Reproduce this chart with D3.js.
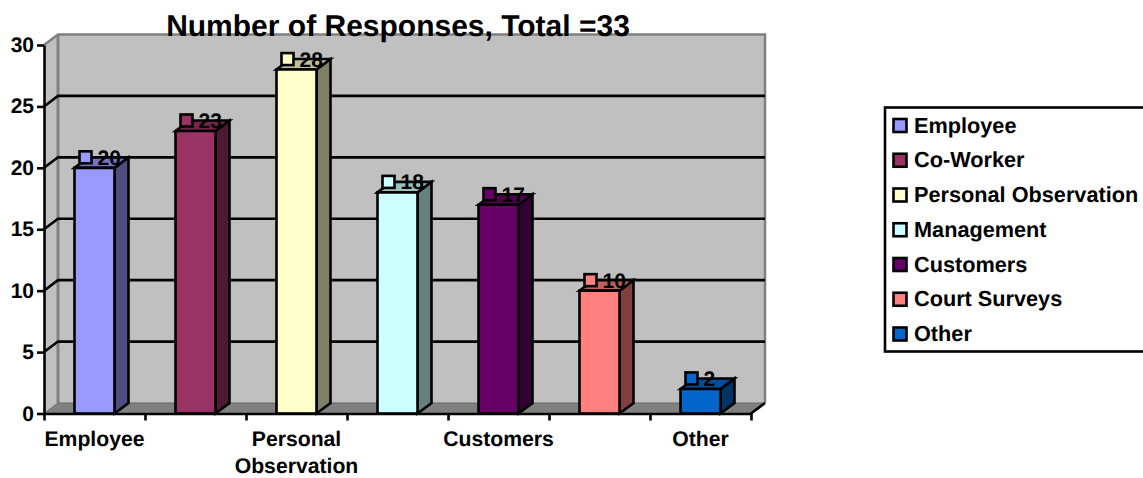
<!DOCTYPE html>
<html><head><meta charset="utf-8">
<script src="https://d3js.org/d3.v7.min.js"></script>
<style>html,body{margin:0;padding:0;background:#fff;overflow:hidden}svg{display:block}
text{font-family:"Liberation Sans",Arial,sans-serif;font-weight:bold;fill:#000;text-rendering:geometricPrecision}</style>
</head><body><div id="c"></div>
<script>
const categories=["Employee","Co-Worker","Personal Observation","Management","Customers","Court Surveys","Other"];
const values=[20,23,28,18,17,10,2];
const colors=["#9999FF","#993366","#FFFFCC","#CCFFFF","#660066","#FF8080","#0066CC"];
const sideColors=["#4D4D80","#4D1A33","#808066","#668080","#330033","#804040","#003366"];
const topColors=["#7373BF","#73264D","#BFBF99","#99BFBF","#4D004D","#BF6060","#004D99"];
const axisLabels=[["Employee"],[],["Personal","Observation"],[],["Customers"],[],["Other"]];
const yTicks=[0,5,10,15,20,25,30];
const titleText="Number of Responses, Total =33";

(function(){
const W=1143,H=478,pLeft=44,pRight=751,pTop=45,pBottom=413.5,dx=14,dy=-10.5,lw=2.6;
const svg=d3.select("#c").append("svg").attr("width",W).attr("height",H);
const x=d3.scaleBand().domain(categories).range([pLeft,pRight]).paddingInner(.604).paddingOuter(.302);
const edge=d3.scaleLinear().domain([0,categories.length]).range([pLeft,pRight]);
const y=d3.scaleLinear().domain([0,30]).range([pBottom,pTop]);
const poly=(pts,f,s,w)=>svg.append("polygon").attr("points",pts.map(p=>p.join(",")).join(" ")).attr("fill",f).attr("stroke",s||"none").attr("stroke-width",w||0).attr("stroke-linejoin","miter");
const label=(g,tx,ty,str,size,anchor)=>g.append("text").attr("x",tx).attr("y",ty).attr("font-size",size).attr("text-anchor",anchor||"start").text(str);

// walls and floor
poly([[pLeft+dx,pTop+dy],[pRight+dx,pTop+dy],[pRight+dx,pBottom+dy],[pLeft+dx,pBottom+dy]],"#C0C0C0");
poly([[pLeft,pTop],[pLeft+dx,pTop+dy],[pLeft+dx,pBottom+dy],[pLeft,pBottom]],"#C0C0C0");
poly([[pLeft,pBottom],[pLeft+dx,pBottom+dy],[pRight+dx,pBottom+dy],[pRight,pBottom]],"#808080");
// wall edges
const gray="#808080";
svg.append("path").attr("d",`M${pLeft},${pTop}L${pLeft+dx},${pTop+dy}H${pRight+dx}V${pBottom+dy}`).attr("fill","none").attr("stroke",gray).attr("stroke-width",2.5);
svg.append("path").attr("d",`M${pLeft+dx},${pTop+dy}V${pBottom+dy}`).attr("stroke",gray).attr("stroke-width",3);
svg.append("path").attr("d",`M${pLeft},${pBottom}L${pLeft+dx},${pBottom+dy}H${pRight+dx}`).attr("fill","none").attr("stroke","#666").attr("stroke-width",1);
// gridlines
yTicks.filter(v=>v>0&&v<30).forEach(v=>{
  svg.append("path").attr("d",`M${pLeft},${y(v)}L${pLeft+dx},${y(v)+dy}H${pRight+dx}`).attr("fill","none").attr("stroke","#000").attr("stroke-width",lw);
});
// bars
categories.forEach((c,i)=>{
  const x0=x(c),x1=x0+x.bandwidth(),t=y(values[i]);
  poly([[x1,t],[x1+dx,t+dy],[x1+dx,pBottom+dy],[x1,pBottom]],sideColors[i],"#000",lw);
  poly([[x0,t],[x0+dx,t+dy],[x1+dx,t+dy],[x1,t]],topColors[i],"#000",lw);
  poly([[x0,t],[x1,t],[x1,pBottom],[x0,pBottom]],colors[i],"#000",lw);
});
// axes
const yAxis=d3.axisLeft(y).tickValues(yTicks).tickSize(7).tickSizeOuter(0).tickFormat("");
svg.append("g").attr("transform",`translate(${pLeft},0)`).call(yAxis).call(g=>g.selectAll("path,line").attr("stroke","#000").attr("stroke-width",lw));
const xAxis=d3.axisBottom(edge).tickValues(d3.range(categories.length+1)).tickSize(7).tickSizeOuter(0).tickFormat("");
svg.append("g").attr("transform",`translate(0,${pBottom})`).call(xAxis).call(g=>g.selectAll("path,line").attr("stroke","#000").attr("stroke-width",lw));
svg.append("path").attr("d",`M${pRight},${pBottom}L${pRight+dx},${pBottom+dy}`).attr("stroke","#000").attr("stroke-width",lw);
const tg=svg.append("g");
yTicks.forEach(v=>label(tg,34,y(v)+7,v,21,"end"));
axisLabels.forEach((lines,i)=>{
  const cx=x(categories[i])+x.bandwidth()/2;
  lines.forEach((s,j)=>label(tg,cx,445.5+j*27.5,s,21.2,"middle"));
});
// data labels with markers
categories.forEach((c,i)=>{
  const mx=x(c)+11,my=y(values[i])+dy;
  svg.append("rect").attr("x",mx-6).attr("y",my-6).attr("width",12).attr("height",12).attr("fill",colors[i]).attr("stroke","#000").attr("stroke-width",lw);
  label(svg,mx+12,my+7.5,values[i],21);
});
// title
label(svg,398,35.5,titleText,30,"middle");
// legend
svg.append("rect").attr("x",885).attr("y",107.5).attr("width",270).attr("height",244).attr("fill","#fff").attr("stroke","#000").attr("stroke-width",lw);
const rowY=d3.scalePoint().domain(categories).range([125.5,334]);
categories.forEach((c,i)=>{
  svg.append("rect").attr("x",893.5).attr("y",rowY(c)-6.5).attr("width",13).attr("height",13).attr("fill",colors[i]).attr("stroke","#000").attr("stroke-width",lw);
  label(svg,914,rowY(c)+7.2,c,21.7);
});
})();
</script></body></html>
